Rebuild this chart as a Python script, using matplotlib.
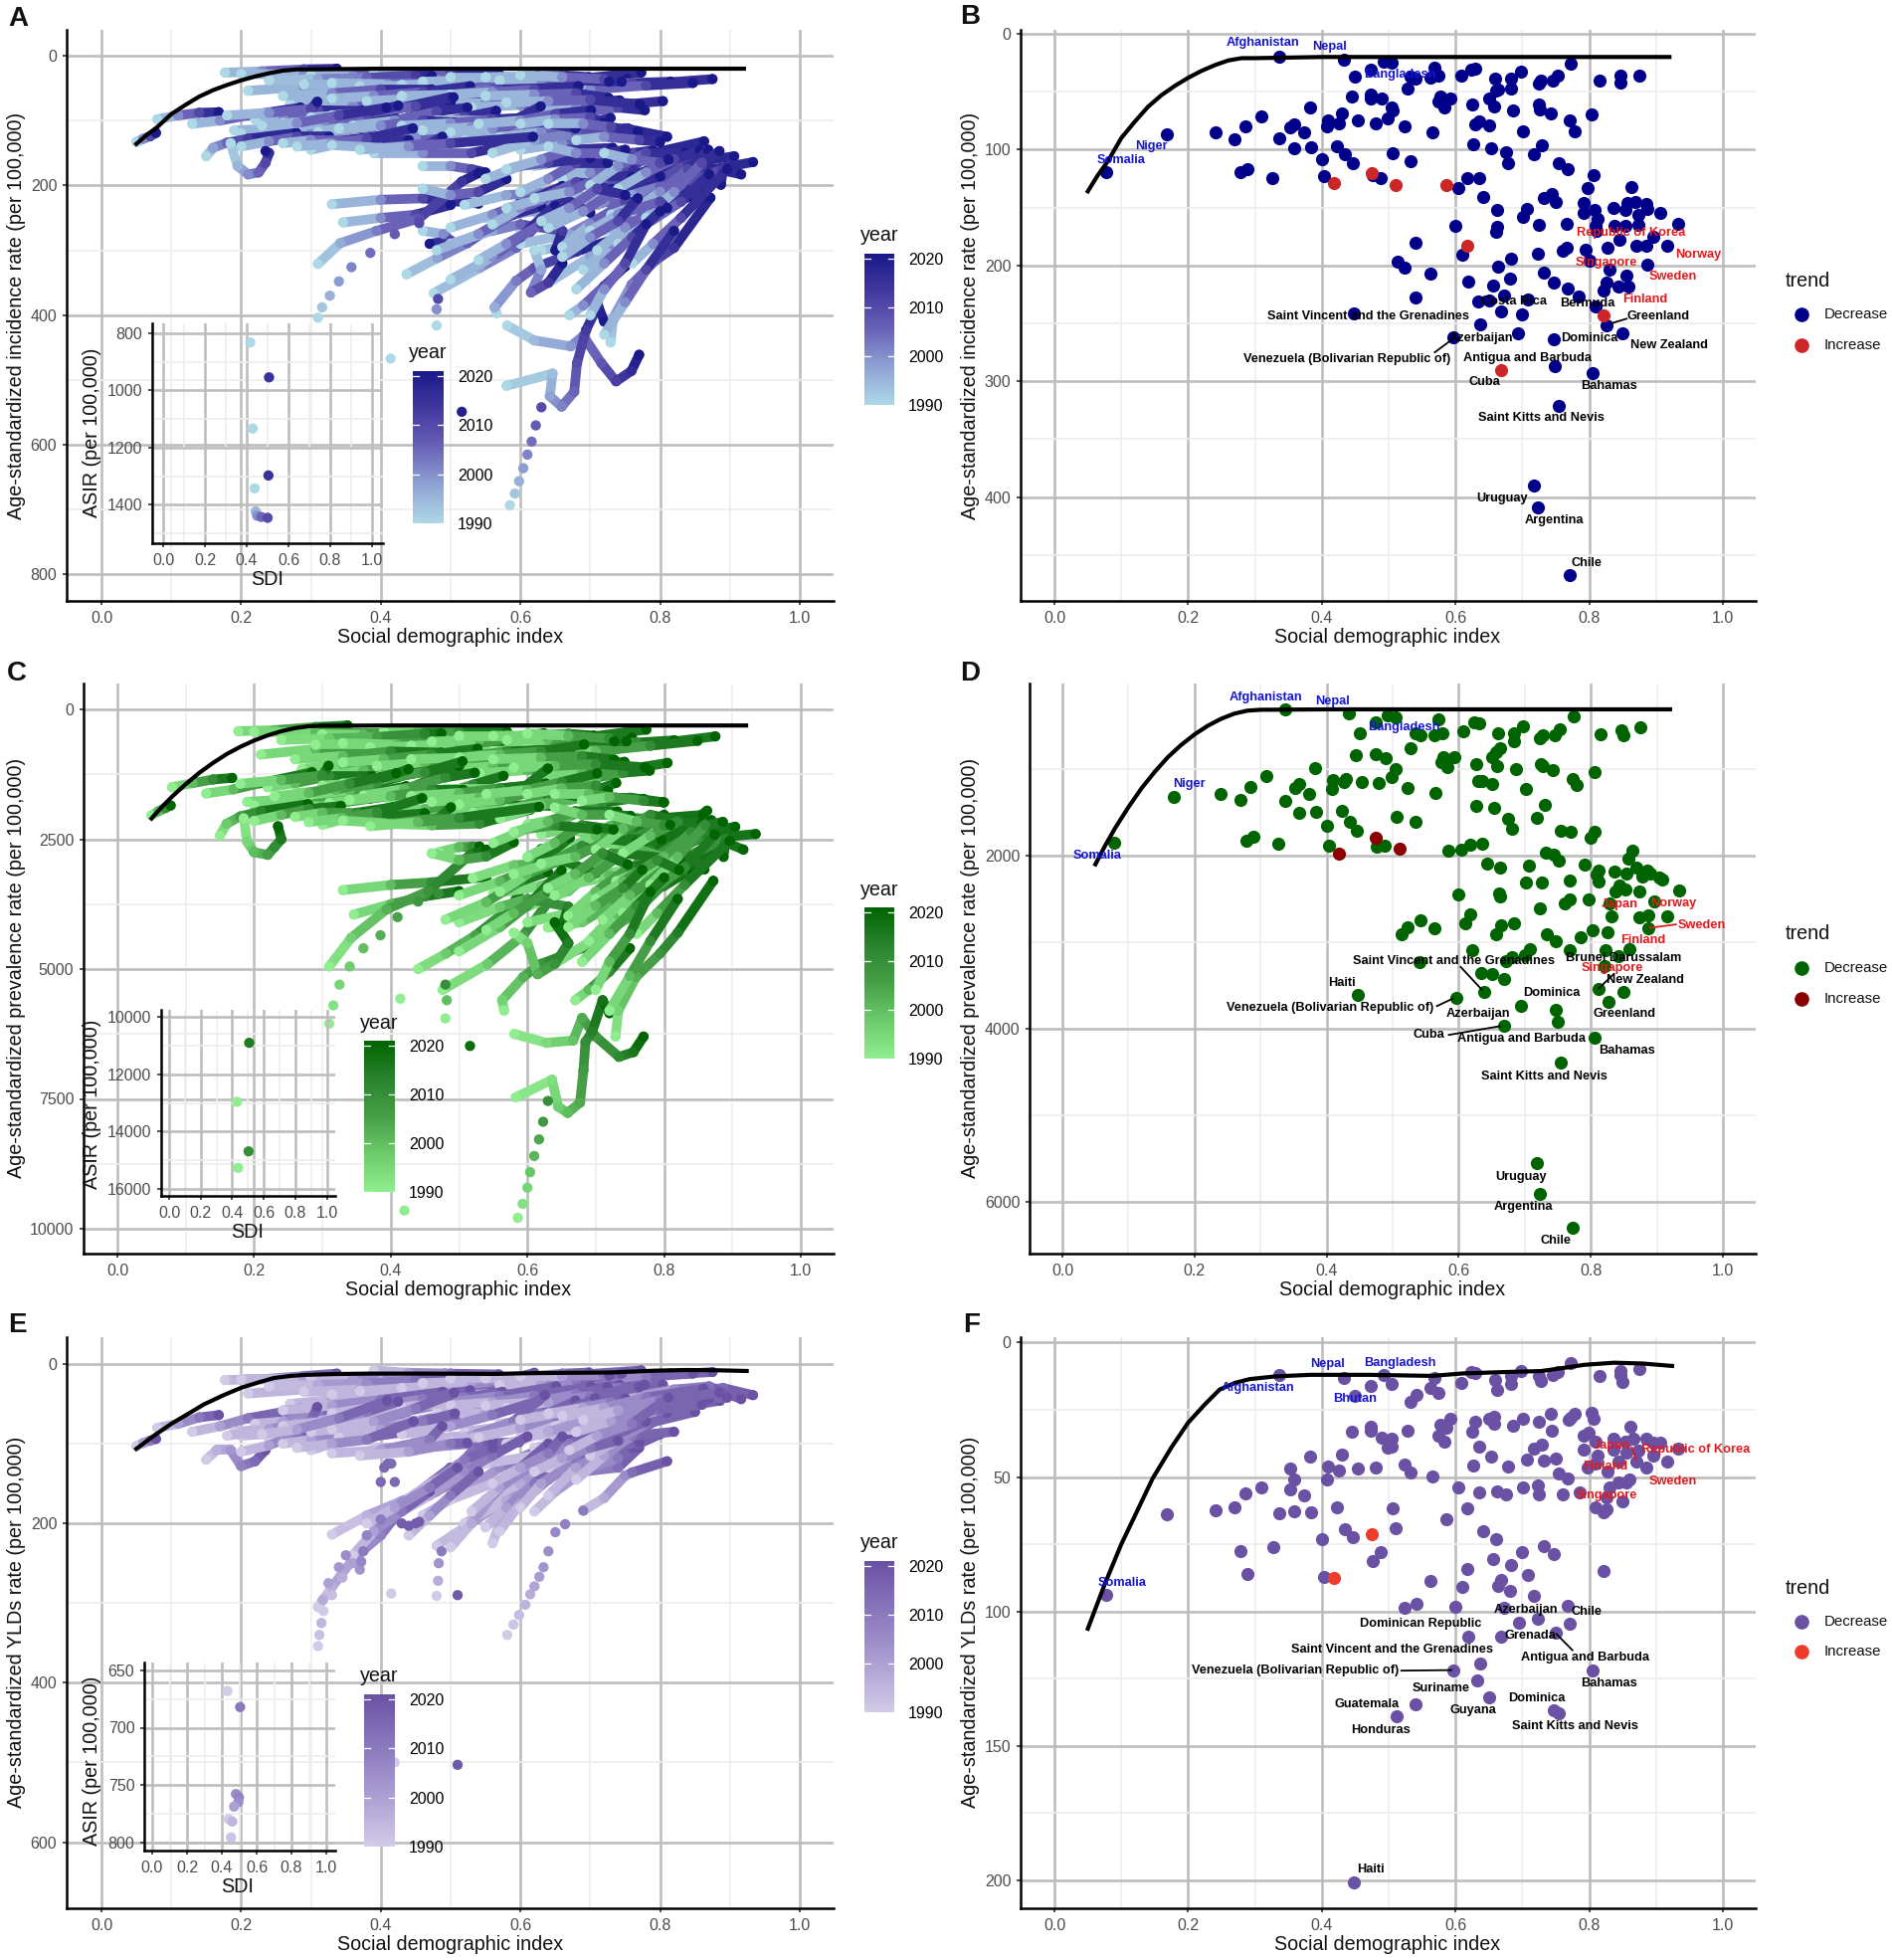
import numpy as np
import matplotlib
matplotlib.use("Agg")
import matplotlib.pyplot as plt
from matplotlib.collections import LineCollection
from matplotlib.colors import LinearSegmentedColormap, Normalize
from matplotlib.cm import ScalarMappable
from matplotlib.lines import Line2D

FONT = ["Liberation Sans", "DejaVu Sans"]

W, H = 1902, 1970

# frontier lines
FRONT_A_X = [.05, .065, .08, .1, .12, .14, .16, .18, .2, .22, .24, .26, .28, .3, .4, .6, .92]
FRONT_A_Y = [136, 122, 110, 90, 76, 63, 53, 45, 38, 32, 27, 23, 21, 21, 20, 20, 20]
FRONT_C_Y = [2100, 1880, 1680, 1440, 1220, 1030, 860, 720, 600, 500, 420, 360, 325, 315, 310, 310, 310]
FRONT_E_X = [.05, .075, .1, .125, .147, .175, .2, .225, .247, .27, .292, .33, .383, .47, .565, .61, .67, .728, .76, .792, .837, .88, .924]
FRONT_E_Y = [106.4, 90, 75, 62, 50.5, 39, 29.8, 23, 17.5, 15, 13.6, 12.6, 12, 12, 12.4, 11.5, 11, 10.6, 9.5, 8.3, 7.5, 7.8, 8.7]

# panel B, last year points
B_DEC_X = [.337,.433,.473,.492,.504,.569,.450,.533,.540,.562,.575,.608,.623,.629,.659,.683,.698,.724,.727,.745,.753,.773,.815,.847,.847,.875,
           .528,.660,.664,.683,.445,.473,.473,.489,.574,.577,.583,.593,.625,.651,.658,.686,.724,.726,.742,.771,.778,.804,.383,.309,.430,.409,.408,.425,.454,.480,.499,.504,.506,.524,.565,.629,.635,.651,.701,
           .241,.285,.269,.336,.353,.359,.373,.168,.359,.384,.423,.435,.401,.446,.506,.533,.626,.653,.675,.679,.718,.729,.754,.768,.806,.279,.289,.326,.404,.476,.488,.618,.636,.604,.078,
           .642,.732,.744,.750,.798,.863,.791,.808,.791,.812,.809,.836,.854,.857,.869,.885,.887,.874,.906,.933,.874,.854,.838,.811,.767,.662,.707,.701,.725,.599,.662,.660,
           .845,.896,.870,.886,.916,.828,.795,.767,.761,.723,.610,.540,.683,.663,.513,.524,.563,.619,.656,.682,.732,.747,.768,.784,.801,.830,.856,.887,.826,.844,.859,.821,
           .540,.634,.651,.672,.708,.809,.668,.700,.448,.637,.826,.694,.747,.849,.597,.749,.805,.755,.718,.723,.771]
B_DEC_Y = [20,22,31,24,25,29,37,37,39,38,36,36,31,30,39,39,33,43,40,40,36,26,40,36,42,36,
           47,49,48,47,54,52,56,56,58,54,64,56,61,56,63,66,61,65,69,75,84,70,64,71,69,75,80,77,75,77,73,64,66,80,85,78,76,79,84,
           85,80,91,90,81,78,85,87,99,98,97,104,108,112,103,110,95,99,102,112,104,96,112,117,122,119,117,125,123,122,125,125,125,133,119,
           141,142,138,145,133,132,146,152,155,160,166,150,152,146,145,147,151,156,155,164,165,166,166,170,164,152,151,158,165,166,167,171,
           178,175,183,183,183,185,186,185,187,190,191,180,194,201,197,202,207,214,217,211,206,215,220,227,196,204,209,199,215,218,218,222,
           228,231,230,226,229,235,240,242,241,251,252,259,264,259,262,287,293,321,390,409,467]
B_INC_X = [.418, .474, .510, .586, .617, .668, .821]
B_INC_Y = [129, 120, 131, 131, 183, 290, 243]

# panel D, last year points
D_DEC_X = [.337,.433,.492,.504,.570,.474,.624,.631,.451,.534,.542,.563,.576,.607,.660,.683,.697,.723,.727,.745,.753,.774,.815,.847,.849,.875,
           .527,.663,.656,.683,.651,.445,.474,.489,.577,.574,.583,.593,.626,.658,.686,.724,.727,.742,.772,.779,.805,.383,.309,.429,.409,.408,.426,.454,.479,.499,.505,.523,.565,.630,.635,.651,.702,
           .240,.285,.269,.337,.353,.359,.373,.168,.359,.384,.423,.435,.400,.446,.506,.534,.627,.653,.675,.680,.718,.730,.754,.770,.806,.799,.279,.289,.327,.404,.476,.488,.617,.636,.585,.604,.078,
           .643,.662,.707,.732,.744,.751,.791,.812,.809,.811,.836,.854,.857,.863,.869,.886,.878,.890,.904,.908,.934,.874,.852,.844,.838,.768,.702,.726,.599,.661,.662,.768,.760,.723,.796,.828,.896,
           .831,.873,.887,.916,.887,.617,.610,.542,.523,.513,.564,.664,.684,.656,.733,.747,.785,.802,.826,.768,.822,.859,.842,.620,.708,.700,.681,.672,.540,.821,.634,.650,.669,
           .811,.638,.850,.448,.597,.827,.695,.747,.750,.669,.805,.754,.719,.723,.772]
D_DEC_Y = [309,357,381,405,424,462,462,471,581,590,614,605,590,562,590,590,505,638,614,614,543,386,595,548,605,519,
           757,757,805,676,862,843,833,876,857,919,976,862,943,967,995,938,967,1010,1114,1181,1029,990,1086,1110,1129,1229,1152,1152,1162,1090,1000,1219,1281,1138,1133,1167,1233,
           1286,1210,1352,1367,1214,1176,1286,1319,1510,1495,1481,1614,1657,1710,1548,1605,1429,1448,1576,1695,1567,1414,1714,1724,1719,1790,1824,1781,1862,1881,1895,1886,1876,1862,1943,1933,1848,
           2090,2138,2119,1967,1990,2052,2105,2167,2224,2300,2181,2210,2029,1943,2133,2167,2238,2210,2257,2276,2400,2414,2395,2343,2414,2290,2310,2314,2443,2438,2471,2505,2557,2610,2505,2548,2533,
           2700,2710,2695,2700,2843,2681,2776,2743,2824,2905,2843,2805,2781,2910,2905,2986,2943,2867,2886,3090,3095,3081,3162,3090,3086,3152,3167,3214,3229,3271,3352,3367,3429,
           3543,3576,3576,3610,3643,3686,3738,3781,3924,3967,4100,4395,5557,5905,6300]
D_INC_X = [.418, .474, .511]
D_INC_Y = [1981, 1790, 1924]

# panel F, last year points
F_DEC_X = [.337,.433,.492,.569,.623,.630,.698,.773,.847,.875,.815,.847,.849,.753,.745,.724,.727,.683,.659,.662,.683,.608,.473,.504,.450,.542,.562,.575,.533,
           .445,.473,.473,.489,.505,.504,.499,.528,.574,.577,.583,.587,.593,.625,.629,.651,.657,.658,.686,.701,.725,.742,.744,.770,.772,.778,.804,.806,.792,.799,.809,.791,.812,.836,.862,.854,.866,.885,.896,.906,.933,.856,.837,.874,.896,.871,.916,.844,.886,.828,.797,.810,
           .635,.653,.718,.729,.707,.732,.750,.754,.768,.626,.679,.524,.533,.565,.480,.454,.425,.409,.408,.430,.383,.352,.359,.353,.309,.373,.285,.241,.269,.168,.336,.359,.384,.423,.506,.617,.586,.604,.636,.662,.675,.701,.723,.725,.761,.785,.830,.844,.856,.860,.826,.849,.810,.821,.826,
           .435,.447,.510,.401,.642,.661,.279,.327,.488,.476,.289,.403,.078,.732,.747,.700,.656,.683,.618,.821,.709,.668,.664,.682,.563,.610,.718,.768,.524,.541,.599,.672,.695,.723,.771,.619,.668,.750,.637,.597,.805,.633,.651,.540,.512,.747,.755,.448]
F_DEC_Y = [12,13,12,13,11,11.5,10.6,7.5,10.6,10,12.4,12,14.7,11,12,12.4,14.4,12.6,14,17.6,15.5,14.9,16.3,15.5,19.8,19.5,17,18.6,22,
           33,31.3,32.8,35.4,35.7,38.6,39,32.8,34.7,30.5,37,31.6,28.4,33.3,29.6,28.2,27.5,30.2,31,28.5,29.4,26.4,32.7,28.7,27.8,26.5,26.2,28.4,34.8,33.6,37,39.7,42,35.9,31.4,36.7,35.9,35.9,37.4,37.4,39.4,40.9,39.7,40,42,44.3,44.3,44.3,46.6,48,46.6,45,
           38.6,42.3,39.4,38,43.4,44,43.3,48.6,50.6,45.7,46.2,45.4,48.2,49.8,46.6,47,47.4,46.2,50.8,41.7,42.3,47,51,54.6,53.8,56.7,56,62.4,61.3,64,63.5,62.7,63,61.3,61.7,61.8,65.6,54,55.7,55.5,56.3,53.8,53.2,56.6,56.3,55.7,53.8,52,52,50.8,57.4,59.2,61.3,63,62,
           69.3,72.4,69.2,73,70,73,77.5,76,78,81.3,86.2,87,93.7,75.8,78.5,77.8,80.4,82.8,84.2,84.8,86.5,88.3,90.5,92.2,88.6,91,94.3,98,98.6,97.2,98.2,98.6,104,102.8,104.6,109.2,109.5,108,119.5,121.8,122,125.5,131.9,134.5,139,136.7,138,200.8]
F_INC_X = [.474, .418]
F_INC_Y = [71.2, 87.4]

# panel A trajectories, 1990 end first
A_TRAILS = [
    [(.177,26),(.23,24),(.29,21),(.337,20)], [(.20,28),(.29,29),(.40,29),(.507,27)], [(.30,30),(.36,31),(.41,34),(.45,37)],
    [(.21,54),(.29,48),(.37,42),(.45,38)], [(.35,61),(.45,57),(.57,50),(.68,46)], [(.39,27),(.44,27),(.5,27),(.57,29)],
    [(.40,35),(.48,37),(.55,37),(.625,31)], [(.515,50),(.60,42),(.69,35),(.773,26)], [(.64,57),(.72,50),(.80,42),(.875,36)],
    [(.55,50),(.63,46),(.70,42),(.753,36)], [(.60,45),(.68,44),(.76,42),(.815,40)], [(.62,55),(.70,52),(.78,46),(.847,42)],
    [(.27,75),(.33,68),(.39,62),(.445,54)], [(.30,85),(.36,76),(.42,65),(.473,56)], [(.40,78),(.47,74),(.53,65),(.593,56)],
    [(.42,80),(.48,72),(.55,66),(.625,61)], [(.47,75),(.55,72),(.62,68),(.686,66)], [(.53,80),(.60,76),(.67,70),(.742,69)],
    [(.62,82),(.68,80),(.74,76),(.804,70)], [(.65,92),(.70,86),(.74,80),(.778,84)], [(.08,98),(.11,92),(.14,88),(.168,87)],
    [(.13,105),(.17,100),(.21,92),(.285,80)], [(.22,98),(.26,92),(.31,84),(.373,85)], [(.19,115),(.26,112),(.33,100),(.384,98)],
    [(.2,120),(.28,118),(.36,108),(.423,97)], [(.24,125),(.30,120),(.37,112),(.435,104)], [(.28,108),(.34,102),(.38,92),(.454,75)],
    [(.31,118),(.38,110),(.44,95),(.50,73)], [(.36,108),(.42,100),(.48,86),(.524,80)], [(.40,118),(.46,110),(.52,95),(.565,85)],
    [(.45,135),(.52,128),(.57,120),(.636,125)], [(.39,128),(.45,125),(.50,118),(.533,110)], [(.48,100),(.55,100),(.62,95),(.653,99)],
    [(.52,130),(.58,125),(.63,110),(.675,102)], [(.57,125),(.63,118),(.68,108),(.729,96)], [(.60,145),(.66,135),(.71,118),(.754,112)],
    [(.05,133),(.06,128),(.07,124),(.078,119)], [(.15,155),(.16,142),(.18,134),(.21,128),(.279,119)], [(.2,140),(.24,132),(.28,125),(.326,125)],
    [(.26,135),(.3,130),(.35,130),(.404,123)], [(.30,145),(.33,138),(.38,135),(.44,130)],
    [(.185,135),(.195,170),(.21,183),(.225,180),(.235,165),(.24,150),(.235,147)], [(.39,150),(.46,150),(.53,150),(.604,133)],
    [(.46,170),(.50,170),(.53,175),(.55,180)], [(.33,229),(.40,222),(.46,220),(.54,228)], [(.346,257),(.40,250),(.45,245),(.5,230)],
    [(.31,321),(.342,289),(.394,270),(.455,251),(.516,194),(.54,181)], [(.46,270),(.49,275),(.50,285),(.47,290)],
    [(.476,366),(.542,327),(.594,296),(.637,245),(.682,213)], [(.437,337),(.481,312),(.524,289),(.577,251),(.61,214)],
    [(.566,397),(.563,388),(.594,347),(.62,327),(.68,302),(.75,277)],
    [(.581,416),(.62,439),(.672,448),(.69,432),(.716,474),(.737,502),(.759,486),(.77,461)],
    [(.58,509),(.646,490),(.642,525),(.659,541),(.677,518),(.681,474),(.694,423),(.711,385),(.72,410)],
    [(.729,442),(.733,404),(.759,353),(.794,315),(.82,296),(.872,219)], [(.52,230),(.58,215),(.64,210),(.70,190),(.76,170)],
    [(.55,250),(.62,240),(.69,220),(.76,185),(.826,160)], [(.60,290),(.67,275),(.73,240),(.78,190),(.85,145)],
    [(.64,350),(.70,310),(.75,280),(.82,220),(.87,190)], [(.60,270),(.66,250),(.72,200),(.79,150),(.863,132)],
    [(.65,240),(.71,230),(.78,205),(.84,165),(.906,155)], [(.68,180),(.74,185),(.80,200),(.85,180),(.933,164)],
    [(.70,225),(.76,215),(.80,200),(.86,170),(.916,183)], [(.72,270),(.78,240),(.83,200),(.89,175),(.887,199)],
    [(.66,190),(.72,160),(.76,150),(.79,146)], [(.56,150),(.62,130),(.68,120),(.75,112),(.81,125)], [(.62,170),(.68,160),(.74,175),(.80,186)],
    [(.63,300),(.68,290),(.73,260),(.80,240),(.856,209)], [(.66,210),(.72,225),(.78,235),(.83,215)], [(.50,290),(.56,270),(.60,260),(.66,270),(.65,300)],
    [(.62,300),(.63,330),(.615,365),(.64,350),(.66,320)], [(.67,400),(.69,385),(.72,355),(.75,325)],
    [(.24,38),(.31,36),(.38,34),(.45,30),(.473,31)], [(.29,44),(.37,44),(.45,42),(.533,37)], [(.33,42),(.41,44),(.48,42),(.54,39)],
    [(.37,47),(.44,46),(.50,42),(.562,38)], [(.43,45),(.50,44),(.56,38),(.608,36)], [(.46,40),(.53,38),(.60,35),(.659,39)],
    [(.50,33),(.57,33),(.63,34),(.683,39)], [(.55,33),(.61,32),(.66,30),(.698,33)], [(.57,38),(.63,37),(.68,38),(.745,40)],
    [(.60,30),(.66,33),(.72,36),(.727,40)], [(.26,62),(.33,58),(.40,52),(.473,52)], [(.33,66),(.39,62),(.46,56),(.528,47)],
    [(.38,70),(.45,66),(.52,58),(.574,58)], [(.43,62),(.50,60),(.57,52),(.660,49)], [(.50,60),(.56,56),(.62,52),(.683,47)],
    [(.55,62),(.62,60),(.68,58),(.726,65)], [(.58,72),(.64,70),(.70,68),(.771,75)], [(.18,92),(.24,88),(.30,82),(.309,71)],
    [(.30,95),(.37,90),(.43,80),(.499,64)], [(.33,92),(.39,86),(.45,78),(.504,64)], [(.26,104),(.32,100),(.38,88),(.425,77)],
    [(.23,108),(.28,104),(.34,92),(.408,80)], [(.34,112),(.40,108),(.46,100),(.506,103)], [(.43,108),(.50,104),(.56,98),(.626,95)],
    [(.46,115),(.53,110),(.59,100),(.629,78)], [(.50,118),(.56,112),(.62,100),(.679,112)], [(.54,105),(.60,100),(.65,90),(.701,84)],
    [(.60,105),(.65,98),(.70,95),(.718,104)], [(.64,105),(.69,105),(.73,110),(.768,117)], [(.28,140),(.33,135),(.38,128),(.446,112)],
    [(.33,138),(.40,142),(.47,135),(.488,125)], [(.37,145),(.44,140),(.50,135),(.618,125)],
    [(.46,205),(.50,215),(.54,210),(.58,190)], [(.50,265),(.56,245),(.61,225),(.66,201)], [(.48,300),(.54,275),(.59,245),(.63,232)],
    [(.50,345),(.56,310),(.60,280),(.65,230)], [(.54,315),(.58,290),(.63,260),(.672,226)], [(.56,260),(.60,235),(.65,215),(.70,242)],
    [(.58,235),(.63,220),(.68,195),(.732,206)], [(.62,220),(.67,210),(.72,185),(.76,187)], [(.64,265),(.69,240),(.74,205),(.80,186)],
    [(.66,295),(.70,260),(.75,225),(.784,227)], [(.69,330),(.73,290),(.77,240),(.826,215)], [(.71,300),(.75,265),(.80,220),(.844,218)],
    [(.73,245),(.77,230),(.82,195),(.859,218)], [(.66,170),(.70,180),(.75,170),(.80,150)], [(.70,200),(.74,170),(.78,150),(.836,150)],
    [(.74,205),(.78,180),(.82,160),(.857,146)], [(.76,240),(.80,210),(.84,175),(.869,145)], [(.78,250),(.82,210),(.86,165),(.885,147)],
    [(.74,290),(.78,260),(.83,225),(.87,183)], [(.76,320),(.79,290),(.83,250),(.896,175)], [(.70,270),(.74,245),(.80,225),(.81,235)],
    [(.60,210),(.64,190),(.68,165),(.725,165)], [(.63,255),(.67,235),(.71,205),(.75,215)], [(.55,190),(.60,170),(.64,165),(.70,158)],
    [(.58,175),(.63,160),(.67,145),(.732,142)], [(.64,140),(.68,150),(.72,150),(.75,145)], [(.68,130),(.72,125),(.77,130),(.80,133)],
    [(.72,150),(.76,160),(.80,165),(.812,160)], [(.66,310),(.70,280),(.74,255),(.768,220)], [(.68,360),(.72,320),(.76,280),(.80,240)],
    [(.70,400),(.72,360),(.75,320),(.78,260)], [(.72,430),(.75,380),(.78,330),(.82,270)],
]
A_TAILS = [
    [(.31,404),(.316,388),(.327,370),(.34,348),(.358,326),(.385,304),(.42,275),(.455,258)],
    [(.48,416),(.48,391),(.482,375)],
    [(.585,693),(.592,675),(.598,656),(.604,636),(.61,615),(.616,595),(.622,570),(.63,542)],
]
A_SINGLE_X = [.414, .516]
A_SINGLE_Y = [467, 549]
A_SINGLE_YEAR = [1990, 2019]
A_INSET_X = [.417, .507, .429, .504, .438, .443, .45, .47, .5]
A_INSET_Y = [832, 954, 1133, 1297, 1342, 1423, 1438, 1442, 1445]
A_INSET_YEAR = [1990, 2015, 1990, 2015, 1990, 1995, 2000, 2005, 2010]

# panel C trajectories
C_TRAILS = [
    [(.177,420),(.23,400),(.29,340),(.337,310)], [(.20,430),(.29,440),(.40,460),(.49,400)], [(.30,480),(.36,490),(.41,540),(.45,580)],
    [(.21,870),(.29,760),(.37,680),(.45,590)], [(.35,950),(.45,880),(.57,760),(.68,680)], [(.39,430),(.44,430),(.5,430),(.57,425)],
    [(.40,540),(.48,580),(.55,570),(.624,460)], [(.515,800),(.60,660),(.69,530),(.774,390)], [(.64,900),(.72,780),(.80,640),(.875,520)],
    [(.55,800),(.63,720),(.70,640),(.753,545)], [(.60,700),(.68,690),(.76,640),(.815,595)], [(.62,860),(.70,810),(.78,700),(.849,605)],
    [(.27,1150),(.33,1060),(.39,950),(.445,845)], [(.30,1300),(.36,1170),(.42,1000),(.474,835)], [(.40,1200),(.47,1140),(.53,1000),(.593,860)],
    [(.42,1230),(.48,1110),(.55,1020),(.626,945)], [(.47,1150),(.55,1100),(.62,1040),(.686,995)], [(.53,1230),(.60,1170),(.67,1080),(.742,1010)],
    [(.62,1270),(.68,1230),(.74,1170),(.805,1030)], [(.65,1400),(.70,1320),(.74,1220),(.779,1180)], [(.08,1500),(.11,1420),(.14,1350),(.168,1320)],
    [(.13,1620),(.17,1540),(.21,1420),(.285,1210)], [(.22,1500),(.26,1420),(.31,1290),(.373,1290)], [(.19,1780),(.26,1720),(.33,1540),(.384,1495)],
    [(.2,1850),(.28,1800),(.36,1640),(.423,1480)], [(.24,1930),(.30,1850),(.37,1720),(.435,1610)], [(.28,1650),(.34,1560),(.38,1420),(.454,1150)],
    [(.31,1800),(.38,1690),(.44,1450),(.50,1090)], [(.36,1660),(.42,1530),(.48,1310),(.523,1220)], [(.40,1800),(.46,1690),(.52,1450),(.565,1280)],
    [(.45,2070),(.52,1960),(.57,1840),(.636,1860)], [(.39,1960),(.45,1920),(.50,1810),(.534,1605)], [(.48,1530),(.55,1530),(.62,1450),(.653,1450)],
    [(.52,1990),(.58,1920),(.63,1680),(.675,1575)], [(.57,1920),(.63,1810),(.68,1650),(.730,1415)], [(.60,2220),(.66,2070),(.71,1800),(.754,1715)],
    [(.05,2040),(.06,1960),(.07,1900),(.078,1850)], [(.15,2430),(.16,2200),(.18,2060),(.21,1960),(.279,1825)], [(.2,2150),(.24,2030),(.28,1920),(.327,1860)],
    [(.26,2070),(.3,1990),(.35,1990),(.404,1880)], [(.30,2220),(.33,2120),(.38,2070),(.45,2000)],
    [(.185,2100),(.19,2550),(.20,2750),(.22,2800),(.23,2650),(.24,2500),(.235,2250)], [(.39,2200),(.46,2230),(.53,2200),(.604,1933)],
    [(.47,2750),(.50,2650),(.52,2640),(.53,2640)], [(.33,3480),(.40,3380),(.46,3330),(.54,3230)], [(.346,3950),(.40,3750),(.45,3600),(.5,3500)],
    [(.31,4950),(.342,4400),(.394,3850),(.455,3500),(.516,2800),(.54,2700)], [(.476,5400),(.542,4900),(.594,4350),(.637,3600),(.682,3090)],
    [(.44,5000),(.481,4700),(.524,4350),(.577,3800),(.62,2690)], [(.566,5800),(.563,5600),(.594,5150),(.62,4900),(.68,4600),(.75,3800)],
    [(.581,6250),(.628,6420),(.667,6375),(.68,5940),(.70,6300),(.734,6690),(.755,6600),(.77,6300)],
    [(.583,7470),(.636,7130),(.645,7650),(.659,7770),(.677,7570),(.682,6950),(.685,6400),(.695,6200),(.71,5600),(.72,5850)],
    [(.729,6300),(.733,5800),(.759,5150),(.794,4700),(.82,4300),(.872,3300)], [(.52,3250),(.58,3000),(.64,2950),(.70,2650),(.76,2300)],
    [(.55,3550),(.62,3400),(.69,3100),(.76,2600),(.826,2400)], [(.60,4100),(.67,3900),(.73,3400),(.78,2700),(.863,1950)],
    [(.64,4900),(.70,4400),(.75,4000),(.82,3100),(.873,2710)], [(.60,3800),(.66,3500),(.72,2800),(.79,2100),(.857,2030)],
    [(.65,3400),(.71,3250),(.78,2900),(.84,2400),(.904,2260)], [(.68,2550),(.74,2600),(.80,2850),(.85,2500),(.934,2400)],
    [(.70,3200),(.76,3050),(.80,2850),(.86,2400),(.916,2700)], [(.72,3800),(.78,3400),(.83,2850),(.89,2500),(.887,2840)],
    [(.66,2700),(.72,2250),(.76,2100),(.791,2105)], [(.56,2100),(.62,1850),(.68,1700),(.75,1700),(.80,1790)], [(.62,2400),(.68,2250),(.74,2500),(.796,2505)],
    [(.63,4200),(.68,4100),(.73,3700),(.80,3400),(.85,3000)], [(.66,3000),(.72,3200),(.78,3350),(.83,3050)], [(.50,4100),(.56,3800),(.60,3650),(.66,3800),(.65,4200)],
    [(.58,4300),(.60,4500),(.615,5100),(.64,4900),(.66,4500),(.64,4100)], [(.67,5600),(.69,5400),(.72,5050),(.75,4600)],
    [(.24,590),(.31,560),(.38,530),(.45,465),(.474,462)], [(.29,680),(.37,680),(.45,650),(.534,590)], [(.33,650),(.41,680),(.48,650),(.542,614)],
    [(.37,730),(.44,710),(.50,650),(.563,605)], [(.43,700),(.50,680),(.56,590),(.607,562)], [(.46,620),(.53,590),(.60,540),(.660,590)],
    [(.50,510),(.57,510),(.63,530),(.683,590)], [(.55,510),(.61,500),(.66,470),(.697,505)], [(.57,590),(.63,570),(.68,590),(.745,614)],
    [(.60,465),(.66,510),(.72,560),(.727,614)], [(.26,960),(.33,900),(.40,810),(.474,833)], [(.33,1020),(.39,960),(.46,870),(.527,757)],
    [(.38,1090),(.45,1020),(.52,900),(.577,857)], [(.43,960),(.50,930),(.57,810),(.663,757)], [(.50,930),(.56,870),(.62,810),(.683,676)],
    [(.55,960),(.62,930),(.68,900),(.727,967)], [(.58,1120),(.64,1090),(.70,1050),(.772,1114)], [(.18,1430),(.24,1360),(.30,1270),(.309,1086)],
    [(.30,1470),(.37,1400),(.43,1240),(.499,1090)], [(.33,1430),(.39,1330),(.45,1210),(.505,1000)], [(.26,1610),(.32,1550),(.38,1360),(.426,1152)],
    [(.23,1670),(.28,1610),(.34,1430),(.408,1229)], [(.34,1740),(.40,1670),(.46,1550),(.506,1548)], [(.43,1670),(.50,1610),(.56,1520),(.627,1429)],
    [(.46,1780),(.53,1700),(.59,1550),(.630,1138)], [(.50,1830),(.56,1740),(.62,1550),(.680,1695)], [(.54,1630),(.60,1550),(.65,1400),(.702,1233)],
    [(.60,1630),(.65,1520),(.70,1470),(.718,1567)], [(.64,1630),(.69,1630),(.73,1700),(.770,1724)], [(.28,2170),(.33,2090),(.38,1980),(.446,1710)],
    [(.33,2140),(.40,2200),(.47,2090),(.488,1886)], [(.37,2250),(.44,2170),(.50,2090),(.617,1876)],
    [(.46,2770),(.50,2900),(.54,2830),(.58,2560)], [(.50,3580),(.56,3310),(.61,3040),(.662,2471)], [(.48,4050),(.54,3710),(.59,3310),(.63,3130)],
    [(.50,4660),(.56,4190),(.60,3780),(.65,3100)], [(.54,4250),(.58,3920),(.63,3510),(.672,3214)], [(.56,3510),(.60,3170),(.65,2900),(.70,3152)],
    [(.58,3170),(.63,2970),(.68,2630),(.733,2905)], [(.62,2970),(.67,2840),(.72,2500),(.76,2557)], [(.64,3580),(.69,3240),(.74,2770),(.802,2867)],
    [(.66,3980),(.70,3510),(.75,3040),(.785,2943)], [(.69,4460),(.73,3920),(.77,3240),(.826,2886)], [(.71,4050),(.75,3580),(.80,2970),(.842,3162)],
    [(.73,3310),(.77,3100),(.82,2630),(.859,3081)], [(.66,2300),(.70,2430),(.75,2300),(.80,2030)], [(.70,2700),(.74,2300),(.78,2030),(.836,2181)],
    [(.74,2770),(.78,2430),(.82,2160),(.854,2210)], [(.76,3240),(.80,2840),(.84,2360),(.869,2133)], [(.78,3380),(.82,2840),(.86,2230),(.886,2167)],
    [(.74,3920),(.78,3510),(.83,3040),(.874,2414)], [(.76,4320),(.79,3920),(.83,3380),(.896,2533)], [(.70,3650),(.74,3310),(.79,2900),(.822,3095)],
    [(.60,2840),(.64,2570),(.68,2230),(.726,2314)], [(.63,3440),(.67,3170),(.71,2770),(.747,2986)], [(.55,2570),(.60,2300),(.64,2230),(.702,2310)],
    [(.58,2360),(.63,2160),(.67,1960),(.732,1967)], [(.64,1890),(.68,2030),(.72,2030),(.751,2052)], [(.68,1760),(.72,1690),(.77,1760),(.799,1790)],
    [(.72,2030),(.76,2160),(.80,2230),(.809,2224)], [(.66,4190),(.70,3780),(.74,3440),(.768,3090)], [(.68,4860),(.72,4320),(.76,3780),(.80,3240)],
    [(.70,5400),(.72,4860),(.75,4320),(.78,3510)], [(.72,5800),(.75,5130),(.78,4460),(.82,3650)],
]
C_TAILS = [
    [(.31,6050),(.316,5700),(.325,5300),(.34,4950),(.36,4600),(.385,4350),(.41,4000),(.44,3700),(.47,3550)],
    [(.48,5950),(.482,5600),(.48,5300)],
    [(.586,9790),(.593,9520),(.60,9210),(.604,8910),(.61,8600),(.617,8280),(.623,7940),(.63,7540)],
]
C_SINGLE_X = [.414, .42, .516]
C_SINGLE_Y = [5570, 9650, 6480]
C_SINGLE_YEAR = [1990, 1990, 2019]
C_INSET_X = [.508, .431, .504, .438]
C_INSET_Y = [10906, 12964, 14690, 15266]
C_INSET_YEAR = [2015, 1990, 2010, 1990]

# panel E trajectories
E_TRAILS = [
    [(.177,20),(.23,19),(.29,15),(.337,12)], [(.20,19),(.29,19),(.40,18),(.492,12)], [(.30,17),(.36,19),(.41,20),(.45,20)],
    [(.21,37),(.29,32),(.37,26),(.45,20)], [(.35,30),(.45,27),(.57,22),(.62,11)], [(.39,8),(.44,11),(.5,12),(.569,13)],
    [(.40,22),(.48,24),(.55,20),(.608,15)], [(.515,20),(.60,17),(.69,13),(.773,8)], [(.64,25),(.72,20),(.80,14),(.875,10)],
    [(.55,26),(.63,22),(.70,17),(.753,11)], [(.60,24),(.68,21),(.76,16),(.815,12)], [(.62,25),(.70,22),(.78,16),(.847,12)],
    [(.27,50),(.33,45),(.39,38),(.445,33)], [(.30,55),(.36,47),(.42,38),(.473,31)], [(.40,50),(.47,42),(.53,36),(.593,28)],
    [(.42,48),(.48,42),(.55,37),(.625,33)], [(.47,42),(.55,38),(.62,34),(.686,31)], [(.53,45),(.60,40),(.67,34),(.742,26)],
    [(.62,45),(.68,38),(.74,32),(.804,26)], [(.65,40),(.70,36),(.74,30),(.778,26)], [(.08,80),(.11,75),(.14,67),(.168,64)],
    [(.13,85),(.17,78),(.21,68),(.285,56)], [(.22,75),(.26,72),(.31,62),(.373,57)], [(.19,85),(.26,80),(.33,68),(.384,63)],
    [(.2,90),(.28,85),(.36,72),(.423,61)], [(.24,95),(.30,90),(.37,80),(.435,69)], [(.28,75),(.34,68),(.38,55),(.454,47)],
    [(.31,78),(.38,70),(.44,52),(.50,39)], [(.36,72),(.42,62),(.48,52),(.524,45)], [(.40,75),(.46,70),(.52,58),(.565,50)],
    [(.45,95),(.52,90),(.57,80),(.636,56)], [(.39,85),(.45,80),(.50,70),(.533,48)], [(.48,60),(.55,62),(.62,52),(.653,42)],
    [(.52,85),(.58,78),(.63,62),(.675,56)], [(.57,75),(.63,68),(.68,52),(.729,38)], [(.60,85),(.66,72),(.71,58),(.754,48)],
    [(.05,103),(.06,99),(.07,96),(.078,94)], [(.15,120),(.165,108),(.185,108),(.20,128),(.22,122),(.235,108)], [(.2,110),(.24,102),(.28,88),(.326,76)],
    [(.26,100),(.3,95),(.35,92),(.403,87)], [(.30,108),(.33,100),(.38,92),(.47,81)], [(.39,105),(.46,105),(.53,100),(.598,98)],
    [(.33,214),(.38,190),(.43,172),(.49,150),(.54,100),(.56,97)], [(.31,305),(.33,280),(.36,245),(.40,215),(.44,170),(.50,130)],
    [(.48,228),(.52,205),(.58,170),(.62,130),(.66,90)], [(.56,225),(.57,200),(.59,170),(.62,135),(.66,100)], [(.52,200),(.58,170),(.63,150),(.69,105),(.75,85)],
    [(.46,190),(.52,160),(.57,130),(.62,110),(.67,89)], [(.50,170),(.56,150),(.61,130),(.65,105),(.69,70)], [(.55,170),(.60,150),(.65,125),(.68,105),(.72,94)],
    [(.62,185),(.65,160),(.69,135),(.74,130),(.77,105)], [(.60,120),(.66,108),(.72,90),(.78,78),(.84,50)], [(.62,105),(.68,96),(.74,78),(.80,60),(.86,50)],
    [(.63,90),(.70,85),(.76,70),(.82,55),(.886,46)], [(.65,75),(.72,62),(.78,45),(.84,35),(.906,37)], [(.72,60),(.78,50),(.84,35),(.89,30),(.933,39)],
    [(.70,48),(.76,42),(.82,32),(.87,28),(.916,44)], [(.58,100),(.64,85),(.70,70),(.76,55),(.81,45)], [(.69,184),(.72,168),(.75,140),(.76,136),(.81,122)],
    [(.55,125),(.62,115),(.70,110),(.76,104),(.80,88)], [(.66,140),(.70,130),(.74,118),(.76,105)],
    [(.24,28),(.31,26),(.38,24),(.45,20),(.504,15.5)], [(.29,35),(.37,32),(.45,30),(.542,19.5)], [(.33,38),(.41,34),(.48,28),(.533,22)],
    [(.37,34),(.44,30),(.50,24),(.562,17)], [(.43,30),(.50,28),(.56,22),(.575,18.6)], [(.46,24),(.53,22),(.60,18),(.659,14)],
    [(.50,18),(.57,17),(.63,16),(.683,12.6)], [(.55,18),(.61,16),(.66,12),(.698,10.6)], [(.57,26),(.63,24),(.68,20),(.745,12)],
    [(.60,15),(.66,15),(.72,14),(.727,14.4)], [(.26,58),(.33,52),(.40,45),(.489,35)], [(.33,62),(.39,54),(.46,44),(.528,33)],
    [(.38,60),(.45,52),(.52,42),(.574,35)], [(.43,55),(.50,48),(.57,40),(.651,28)], [(.50,52),(.56,48),(.62,40),(.701,28)],
    [(.55,52),(.62,48),(.68,38),(.725,29)], [(.58,55),(.64,48),(.70,40),(.770,29)], [(.18,90),(.24,82),(.30,72),(.309,54)],
    [(.30,85),(.37,78),(.43,62),(.499,39)], [(.33,82),(.39,72),(.45,56),(.505,36)], [(.26,78),(.32,72),(.38,60),(.425,47)],
    [(.23,88),(.28,82),(.34,68),(.409,46)], [(.34,92),(.40,82),(.46,72),(.506,62)], [(.43,88),(.50,78),(.56,64),(.626,46)],
    [(.46,100),(.53,90),(.59,72),(.635,39)], [(.50,98),(.56,88),(.62,70),(.679,46)], [(.54,92),(.60,80),(.65,65),(.707,43)],
    [(.60,70),(.65,62),(.70,52),(.750,43)], [(.64,62),(.69,55),(.73,48),(.768,51)], [(.28,105),(.33,100),(.38,95),(.447,72)],
    [(.33,112),(.40,108),(.47,95),(.488,78)], [(.37,115),(.44,110),(.50,100),(.524,99)],
    [(.40,200),(.44,178),(.48,160),(.52,140),(.56,105)], [(.42,190),(.47,165),(.52,135),(.56,115),(.61,91)], [(.36,240),(.39,210),(.43,185),(.47,160)],
    [(.44,215),(.47,190),(.50,165),(.54,135)], [(.50,230),(.53,200),(.56,165),(.60,130),(.64,100)], [(.55,205),(.58,180),(.62,150),(.66,120)],
    [(.57,210),(.60,175),(.64,145),(.69,115)], [(.53,185),(.57,155),(.62,125),(.67,95)], [(.60,180),(.63,150),(.68,120),(.72,98)],
    [(.64,165),(.68,130),(.73,105),(.77,98)], [(.68,145),(.72,115),(.76,90),(.82,85)], [(.70,115),(.74,95),(.78,75),(.85,60)],
    [(.66,115),(.70,95),(.75,75),(.81,61)], [(.64,130),(.68,110),(.72,95),(.78,72)], [(.58,140),(.62,122),(.67,100),(.71,86)],
    [(.56,150),(.60,130),(.64,112),(.66,91)], [(.76,62),(.80,55),(.85,42),(.896,42)], [(.74,70),(.79,60),(.84,48),(.87,44)],
    [(.68,85),(.73,72),(.79,58),(.86,51)], [(.66,65),(.72,55),(.78,42),(.862,31)], [(.69,70),(.74,58),(.80,45),(.885,36)],
    [(.44,168),(.48,145),(.52,120),(.56,105)], [(.38,200),(.42,180),(.47,155),(.51,130)], [(.62,135),(.66,118),(.70,105),(.74,96)],
    [(.67,108),(.71,90),(.76,75),(.812,42)],
]
E_TAILS = [
    [(.31,354),(.312,340),(.315,325),(.317,296),(.325,275),(.34,255),(.35,240),(.38,215),(.40,195)],
    [(.318,310),(.33,290),(.345,268),(.36,250),(.37,258),(.372,248),(.375,235)],
    [(.581,340),(.59,327),(.598,315),(.607,302),(.614,289),(.62,279),(.627,267),(.633,255),(.64,235),(.65,211),(.664,201),(.69,184)],
    [(.48,291),(.482,272),(.483,250),(.487,235)],
]
E_SINGLE_X = [.415, .51, .42, .51, .41, .415, .40, .42, .405, .43, .44, .45, .455]
E_SINGLE_Y = [288, 290, 500, 503, 125, 125, 148, 148, 130, 200, 203, 200, 198]
E_SINGLE_YEAR = [1990, 2019, 1990, 2019, 2015, 2015, 2015, 2015, 2015, 2018, 2018, 2018, 2018]
E_INSET_X = [.432, .505, .481, .498, .495, .47, .439, .46, .453]
E_INSET_Y = [668, 682, 758, 761, 765, 769, 780, 782, 796]
E_INSET_YEAR = [1990, 2010, 2005, 2008, 2005, 2000, 1990, 1995, 1992]

RED = "#E31A1C"
BLUE = "#1414D2"
BLK = "black"
B_LABELS = [("Afghanistan",.312,8,BLUE),("Nepal",.412,11,BLUE),("Bangladesh",.517,35,BLUE),("Niger",.145,97,BLUE),("Somalia",.100,109,BLUE),
            ("Republic of Korea",.862,172,RED),("Norway",.963,191,RED),("Singapore",.826,198,RED),("Sweden",.926,210,RED),("Finland",.884,229,RED),
            ("Costa Rica",.688,231,BLK),("Bermuda",.797,233,BLK),("Saint Vincent and the Grenadines",.469,244,BLK),("Greenland",.904,244,BLK),
            ("Azerbaijan",.638,263,BLK),("Dominica",.801,263,BLK),("New Zealand",.920,269,BLK),("Venezuela (Bolivarian Republic of)",.438,281,BLK),
            ("Antigua and Barbuda",.708,280,BLK),("Cuba",.644,301,BLK),("Bahamas",.829,304,BLK),("Saint Kitts and Nevis",.729,332,BLK),
            ("Uruguay",.669,401,BLK),("Argentina",.747,420,BLK),("Chile",.796,457,BLK)]
B_LINKS = [((.569,275),(.597,263)), ((.856,246),(.833,250))]
D_LABELS = [("Afghanistan",.308,171,BLUE),("Nepal",.409,214,BLUE),("Bangladesh",.517,519,BLUE),("Niger",.192,1176,BLUE),("Somalia",.053,2005,BLUE),
            ("Japan",.844,2567,RED),("Norway",.925,2557,RED),("Sweden",.968,2805,RED),("Finland",.879,2981,RED),("Brunei Darussalam",.850,3181,BLK),
            ("Saint Vincent and the Grenadines",.592,3214,BLK),("Singapore",.832,3295,RED),("Haiti",.423,3467,BLK),("New Zealand",.882,3438,BLK),
            ("Dominica",.741,3581,BLK),("Venezuela (Bolivarian Republic of)",.406,3762,BLK),("Azerbaijan",.630,3824,BLK),("Greenland",.851,3833,BLK),
            ("Cuba",.555,4071,BLK),("Antigua and Barbuda",.695,4119,BLK),("Bahamas",.854,4252,BLK),("Saint Kitts and Nevis",.730,4548,BLK),
            ("Uruguay",.695,5710,BLK),("Argentina",.698,6057,BLK),("Chile",.747,6452,BLK)]
D_LINKS = [((.603,3286),(.635,3548)), ((.567,3738),(.591,3652)), ((.585,4071),(.662,3971)), ((.812,3533),(.835,3367))]
D_RED_LINKS = [((.929,2795),(.890,2833))]
F_LABELS = [("Nepal",.409,8,BLUE),("Bangladesh",.517,7.5,BLUE),("Afghanistan",.304,17,BLUE),("Bhutan",.450,21,BLUE),("Japan",.834,38.2,RED),
            ("Republic of Korea",.959,39.9,RED),("Finland",.824,46.2,RED),("Sweden",.926,51.8,RED),("Singapore",.826,56.7,RED),("Somalia",.102,89.3,BLUE),
            ("Azerbaijan",.706,99.5,BLK),("Chile",.796,100,BLK),("Dominican Republic",.548,104.6,BLK),("Grenada",.712,108.9,BLK),
            ("Saint Vincent and the Grenadines",.505,114,BLK),("Antigua and Barbuda",.794,117,BLK),("Venezuela (Bolivarian Republic of)",.361,122,BLK),
            ("Bahamas",.829,126.8,BLK),("Suriname",.578,128.5,BLK),("Dominica",.722,132.2,BLK),("Guatemala",.467,134.5,BLK),("Guyana",.626,136.7,BLK),
            ("Saint Kitts and Nevis",.779,142.6,BLK),("Honduras",.488,144,BLK),("Haiti",.473,196,BLK)]
F_LINKS = [((.519,122),(.594,121.8)), ((.751,108.4),(.775,114.4))]
F_RED_LINKS = [((.864,39),(.870,43.5))]

CM_A = LinearSegmentedColormap.from_list("a", ["#ADD8E6", "#8FA3D4", "#6A62B8", "#43399F", "#19198A"])
CM_C = LinearSegmentedColormap.from_list("c", ["#90EE90", "#6CCB6C", "#469F46", "#2A842F", "#006400"])
CM_E = LinearSegmentedColormap.from_list("e", ["#D2CBE8", "#B5A9D8", "#9A8AC8", "#826FB8", "#6A51A3"])
NORM = Normalize(1990, 2021)

TICK_SIZE = 11.5
TITLE_SIZE = 14.2
LAB_SIZE = 9.2

fig = plt.figure(figsize=(W / 100, H / 100), dpi=100, facecolor="white")


def ftext(x, y, s, **kw):
    return fig.text(x / W, 1 - y / H, s, family=FONT, **kw)


def make_axes(l, r, t, b, x0, x1, yv0, yp0, yv1, yp1, xmaj, ymaj, yminor):
    ax = fig.add_axes([l / W, 1 - b / H, (r - l) / W, (b - t) / H], facecolor="none")
    ax.set_xlim((l - x0) / (x1 - x0), (r - x0) / (x1 - x0))
    slope = (yv1 - yv0) / (yp1 - yp0)
    ax.set_ylim(yv0 + (b - yp0) * slope, yv0 + (t - yp0) * slope)
    ax.set_xticks(xmaj)
    ax.set_yticks(ymaj)
    ax.set_xticks(np.arange(0.1, 1.0, 0.2), minor=True)
    ax.set_yticks(yminor, minor=True)
    ax.grid(True, which="major", color="#BEBEBE", lw=1.9, zorder=0)
    ax.grid(True, which="minor", color="#EDEDED", lw=1.2, zorder=0)
    ax.set_axisbelow(True)
    for s in ["top", "right"]:
        ax.spines[s].set_visible(False)
    for s in ["left", "bottom"]:
        ax.spines[s].set_linewidth(1.8)
    ax.tick_params(which="minor", length=0)
    ax.tick_params(which="major", length=3, width=1.2, color="#333333", labelcolor="#4D4D4D", labelsize=TICK_SIZE, pad=4)
    for lab in ax.get_xticklabels() + ax.get_yticklabels():
        lab.set_family(FONT)
    return ax


def draw_trails(ax, trails, tails, sx, sy, syear, cmap):
    for t in trails:
        xs = [p[0] for p in t]
        ys = [p[1] for p in t]
        years = np.linspace(1990, 2021, len(t))
        segs = [[t[i], t[i + 1]] for i in range(len(t) - 1)]
        mids = (years[:-1] + years[1:]) / 2
        ax.add_collection(LineCollection(segs, colors=cmap(NORM(mids)), linewidths=7, capstyle="round", zorder=2))
        ax.scatter(xs, ys, c=years, cmap=cmap, norm=NORM, s=55, linewidths=0, zorder=2)
    for t in tails:
        xs = [p[0] for p in t]
        ys = [p[1] for p in t]
        ax.scatter(xs, ys, c=np.linspace(1990, 2010, len(t)), cmap=cmap, norm=NORM, s=55, linewidths=0, zorder=2)
    ax.scatter(sx, sy, c=syear, cmap=cmap, norm=NORM, s=55, linewidths=0, zorder=2)


def colorbar(l, r, t, b, cmap, title_y):
    cax = fig.add_axes([l / W, 1 - b / H, (r - l) / W, (b - t) / H])
    cb = fig.colorbar(ScalarMappable(NORM, cmap), cax=cax)
    cb.outline.set_visible(False)
    cb.set_ticks([1990, 2000, 2010, 2020])
    cb.set_ticklabels(["1990", "2000", "2010", "2020"], family=FONT, fontsize=TICK_SIZE)
    cax.tick_params(length=0, pad=10)
    for y in [1990, 2000, 2010, 2020]:
        cax.plot([0, .2], [y, y], color="white", lw=.9, transform=cax.get_yaxis_transform())
        cax.plot([.8, 1], [y, y], color="white", lw=.9, transform=cax.get_yaxis_transform())
    ftext((l + r) / 2, title_y, "year", fontsize=TITLE_SIZE, ha="center", va="center", color="#111111")


def inset(l, r, t, b, x0, x1, yv0, yp0, yv1, yp1, ymaj, yminor, xs, ys, yrs, cmap):
    ax = make_axes(l, r, t, b, x0, x1, yv0, yp0, yv1, yp1, np.arange(0, 1.01, .2), ymaj, yminor)
    ax.scatter(xs, ys, c=yrs, cmap=cmap, norm=NORM, s=55, linewidths=0, zorder=3)
    return ax


def labels(ax, labs, links, red_links=()):
    for name, x, y, col in labs:
        ax.text(x, y, name, color=col, fontsize=LAB_SIZE, family=FONT, fontweight="bold", ha="center", va="center", zorder=5)
    for p, q in links:
        ax.plot([p[0], q[0]], [p[1], q[1]], color="black", lw=1.3, zorder=5)
    for p, q in red_links:
        ax.plot([p[0], q[0]], [p[1], q[1]], color=RED, lw=1.3, zorder=5)


def trend_legend(y_title, y1, y2, c1, c2):
    ftext(1817, y_title, "trend", fontsize=TITLE_SIZE, ha="center", va="center", color="#111111")
    for y, c, name in [(y1, c1, "Decrease"), (y2, c2, "Increase")]:
        fig.add_artist(Line2D([1811 / W], [1 - y / H], marker="o", ms=9.5, color=c, ls="none", transform=fig.transFigure))
        ftext(1834, y, name, fontsize=10.8, ha="left", va="center", color="#111111")


TICKS01 = np.arange(0, 1.01, .2)

# A
ax = make_axes(67, 838, 30, 604, 102, 804, 0, 56, 800, 577.5, TICKS01, [0, 200, 400, 600, 800], [100, 300, 500, 700])
draw_trails(ax, A_TRAILS, A_TAILS, A_SINGLE_X, A_SINGLE_Y, A_SINGLE_YEAR, CM_A)
ax.plot(FRONT_A_X, FRONT_A_Y, color="black", lw=3, zorder=4)
colorbar(869, 899, 255, 407, CM_A, 236)
inset(153, 385, 325, 546, 164, 374, 800, 335, 1400, 507.5, [800, 1000, 1200, 1400], [900, 1100, 1300, 1500],
      A_INSET_X, A_INSET_Y, A_INSET_YEAR, CM_A)
colorbar(415, 446, 373, 526, CM_A, 355)

# B
ax = make_axes(1026, 1765, 30, 604, 1060, 1732, 0, 34, 400, 499.6, TICKS01, [0, 100, 200, 300, 400], [50, 150, 250, 350, 450])
ax.scatter(B_DEC_X, B_DEC_Y, color="#00008B", s=90, linewidths=0, zorder=3)
ax.scatter(B_INC_X, B_INC_Y, color="#CD2626", s=90, linewidths=0, zorder=3)
ax.plot(FRONT_A_X, FRONT_A_Y, color="black", lw=3, zorder=4)
labels(ax, B_LABELS, B_LINKS)
trend_legend(282, 316, 347, "#00008B", "#CD2626")

# C
ax = make_axes(84, 838, 687, 1260, 118, 805, 0, 713, 10000, 1235, TICKS01, [0, 2500, 5000, 7500, 10000], [1250, 3750, 6250, 8750])
draw_trails(ax, C_TRAILS, C_TAILS, C_SINGLE_X, C_SINGLE_Y, C_SINGLE_YEAR, CM_C)
ax.plot(FRONT_A_X, FRONT_C_Y, color="black", lw=3, zorder=4)
colorbar(869, 899, 912, 1064, CM_C, 894)
inset(162, 337, 1014.5, 1202, 170, 328.5, 10000, 1022, 16000, 1195, [10000, 12000, 14000, 16000], [11000, 13000, 15000],
      C_INSET_X, C_INSET_Y, C_INSET_YEAR, CM_C)
colorbar(366, 397, 1046, 1198, CM_C, 1028)

# D
ax = make_axes(1035, 1765, 687, 1260, 1068, 1732, 2000, 860, 6000, 1208, TICKS01, [2000, 4000, 6000], [1000, 3000, 5000])
ax.scatter(D_DEC_X, D_DEC_Y, color="#006400", s=90, linewidths=0, zorder=3)
ax.scatter(D_INC_X, D_INC_Y, color="#8B0000", s=90, linewidths=0, zorder=3)
ax.plot(FRONT_A_X, FRONT_C_Y, color="black", lw=3, zorder=4)
labels(ax, D_LABELS, D_LINKS, D_RED_LINKS)
trend_legend(939, 973, 1004, "#006400", "#8B0000")

# E
ax = make_axes(67, 838, 1344, 1918, 102, 804, 0, 1371, 600, 1851.5, TICKS01, [0, 200, 400, 600], [100, 300, 500])
draw_trails(ax, E_TRAILS, E_TAILS, E_SINGLE_X, E_SINGLE_Y, E_SINGLE_YEAR, CM_E)
ax.plot(FRONT_E_X, FRONT_E_Y, color="black", lw=3, zorder=4)
colorbar(869, 899, 1569, 1721, CM_E, 1550)
inset(145, 337, 1671, 1860, 153, 328, 650, 1679, 800, 1851.5, [650, 700, 750, 800], [675, 725, 775],
      E_INSET_X, E_INSET_Y, E_INSET_YEAR, CM_E)
colorbar(366, 397, 1703, 1856, CM_E, 1685)

# F
ax = make_axes(1026, 1765, 1344, 1918, 1060, 1732, 0, 1349.4, 200, 1890, TICKS01, [0, 50, 100, 150, 200], [25, 75, 125, 175])
ax.scatter(F_DEC_X, F_DEC_Y, color="#6A51A3", s=90, linewidths=0, zorder=3)
ax.scatter(F_INC_X, F_INC_Y, color="#EF3B2C", s=90, linewidths=0, zorder=3)
ax.plot(FRONT_E_X, FRONT_E_Y, color="black", lw=3, zorder=4)
labels(ax, F_LABELS, F_LINKS, F_RED_LINKS)
trend_legend(1596, 1630, 1660, "#6A51A3", "#EF3B2C")

# axis titles
XT = "Social demographic index"
for x, y in [(453, 640), (1395, 640), (461, 1297), (1400, 1297), (453, 1954), (1395, 1954)]:
    ftext(x, y, XT, fontsize=TITLE_SIZE, ha="center", va="center", color="#111111")
for x, y, s in [(17, 317, "Age-standardized incidence rate (per 100,000)"), (975, 317, "Age-standardized incidence rate (per 100,000)"),
                (17, 973, "Age-standardized prevalence rate (per 100,000)"), (975, 973, "Age-standardized prevalence rate (per 100,000)"),
                (17, 1630, "Age-standardized YLDs rate (per 100,000)"), (975, 1630, "Age-standardized YLDs rate (per 100,000)")]:
    ftext(x, y, s, fontsize=14.2, rotation=90, ha="center", va="center", color="#111111")
for x, y, xs, ys in [(93, 435, 269, 582), (93, 1110, 249, 1239), (93, 1770, 239, 1896)]:
    ftext(x, y, "ASIR (per 100,000)", fontsize=14.2, rotation=90, ha="center", va="center", color="#111111")
    ftext(xs, ys, "SDI", fontsize=TITLE_SIZE, ha="center", va="center", color="#111111")

for x, y, s in [(18, 19, "A"), (975, 17, "B"), (17, 677, "C"), (975, 677, "D"), (17, 1332, "E"), (977, 1332, "F")]:
    ftext(x, y, s, fontsize=20, fontweight="bold", ha="center", va="center", color="#111111")

fig.savefig("out.png", dpi=100)
